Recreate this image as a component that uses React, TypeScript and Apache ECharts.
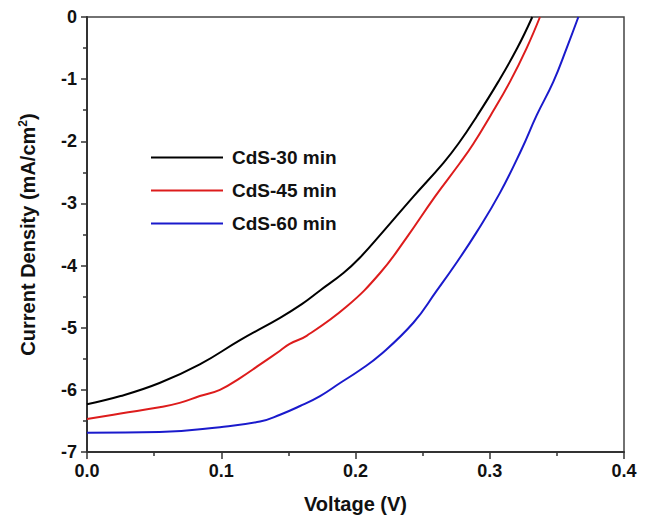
import React, { useEffect, useRef } from "react";
import * as echarts from "echarts";

const seriesNames = ["CdS-30 min", "CdS-45 min", "CdS-60 min"];
const seriesColors = ["#000000", "#dd1c1c", "#1a1acc"];

const cds30: [number, number][] = [
  [0, -6.23], [0.025, -6.10], [0.054, -5.89], [0.084, -5.59], [0.114, -5.20],
  [0.1438, -4.84], [0.16, -4.62], [0.1736, -4.40], [0.191, -4.12], [0.2034, -3.87],
  [0.2207, -3.45], [0.2431, -2.89], [0.2654, -2.35], [0.2766, -2.04], [0.2903, -1.60],
  [0.3064, -1.04], [0.3205, -0.50], [0.3317, 0],
];
const cds45: [number, number][] = [
  [0, -6.47], [0.025, -6.38], [0.054, -6.28], [0.069, -6.21], [0.084, -6.10],
  [0.099, -6.00], [0.114, -5.81], [0.129, -5.59], [0.1438, -5.37], [0.151, -5.26],
  [0.1636, -5.13], [0.1934, -4.66], [0.2183, -4.12], [0.2381, -3.55], [0.2592, -2.89],
  [0.2778, -2.35], [0.2878, -2.04], [0.3002, -1.60], [0.3151, -1.04],
  [0.3275, -0.50], [0.3374, 0],
];
const cds60: [number, number][] = [
  [0, -6.69], [0.054, -6.68], [0.099, -6.60], [0.1289, -6.51], [0.1438, -6.40],
  [0.1587, -6.26], [0.1736, -6.10], [0.1885, -5.89], [0.2034, -5.68], [0.2183, -5.44],
  [0.2431, -4.92], [0.26, -4.42], [0.276, -3.93], [0.29, -3.47], [0.3076, -2.83],
  [0.3235, -2.14], [0.335, -1.58], [0.3474, -1.04], [0.3573, -0.50], [0.366, 0],
];
const seriesData = [cds30, cds45, cds60];

const FONT = "'Liberation Sans', Arial, sans-serif";

export default function App() {
  const ref = useRef<HTMLDivElement>(null);
  useEffect(() => {
    if (!ref.current) return;
    const chart = echarts.init(ref.current, undefined, { renderer: "svg" });
    const labelStyle = { fontFamily: FONT, fontWeight: "bold" as const, fontSize: 18, color: "#111" };
    chart.setOption({
      animation: false,
      backgroundColor: "#fff",
      grid: { left: 87, right: 24, top: 17, bottom: 67, show: true, borderColor: "#444", borderWidth: 1.5, backgroundColor: "transparent" },
      legend: {
        show: true,
        orient: "vertical",
        left: 146,
        top: 143,
        icon: "rect",
        itemWidth: 72,
        itemHeight: 2,
        itemGap: 14,
        data: seriesNames,
        textStyle: { ...labelStyle, fontSize: 19, padding: [0, 0, 0, 4] },
      },
      xAxis: {
        type: "value",
        min: 0,
        max: 0.4,
        interval: 0.1,
        name: "Voltage (V)",
        nameLocation: "middle",
        nameGap: 42,
        nameTextStyle: { ...labelStyle, fontSize: 20 },
        axisLine: { show: true, onZero: false, lineStyle: { color: "#333", width: 2 } },
        axisTick: { show: true, inside: false, length: 7, lineStyle: { color: "#333", width: 1.5 } },
        minorTick: { show: true, splitNumber: 2, length: 4, lineStyle: { color: "#333", width: 1.5 } },
        axisLabel: { ...labelStyle, margin: 10, formatter: (v: number) => v.toFixed(1) },
        splitLine: { show: false },
      },
      yAxis: {
        type: "value",
        min: -7,
        max: 0,
        interval: 1,
        name: "Current Density (mA/cm{sup|2})",
        nameLocation: "middle",
        nameRotate: 90,
        nameGap: 48,
        nameTextStyle: { ...labelStyle, fontSize: 20, rich: { sup: { fontFamily: FONT, fontWeight: "bold", fontSize: 12, color: "#111", verticalAlign: "top", padding: [0, 0, 10, 0] } } },
        axisLine: { show: true, onZero: false, lineStyle: { color: "#333", width: 2 } },
        axisTick: { show: true, inside: false, length: 6, lineStyle: { color: "#333", width: 1.5 } },
        minorTick: { show: true, splitNumber: 2, length: 4, lineStyle: { color: "#333", width: 1.5 } },
        axisLabel: { ...labelStyle, margin: 10 },
        splitLine: { show: false },
      },
      series: seriesNames.map((name, i) => ({
        name,
        type: "line",
        data: seriesData[i],
        smooth: 0.45,
        symbol: "none",
        lineStyle: { color: seriesColors[i], width: 2 },
        itemStyle: { color: seriesColors[i] },
      })),
    });
    return () => chart.dispose();
  }, []);
  return <div ref={ref} style={{ position: "absolute", left: 0, top: 0, width: 648, height: 519 }} />;
}
